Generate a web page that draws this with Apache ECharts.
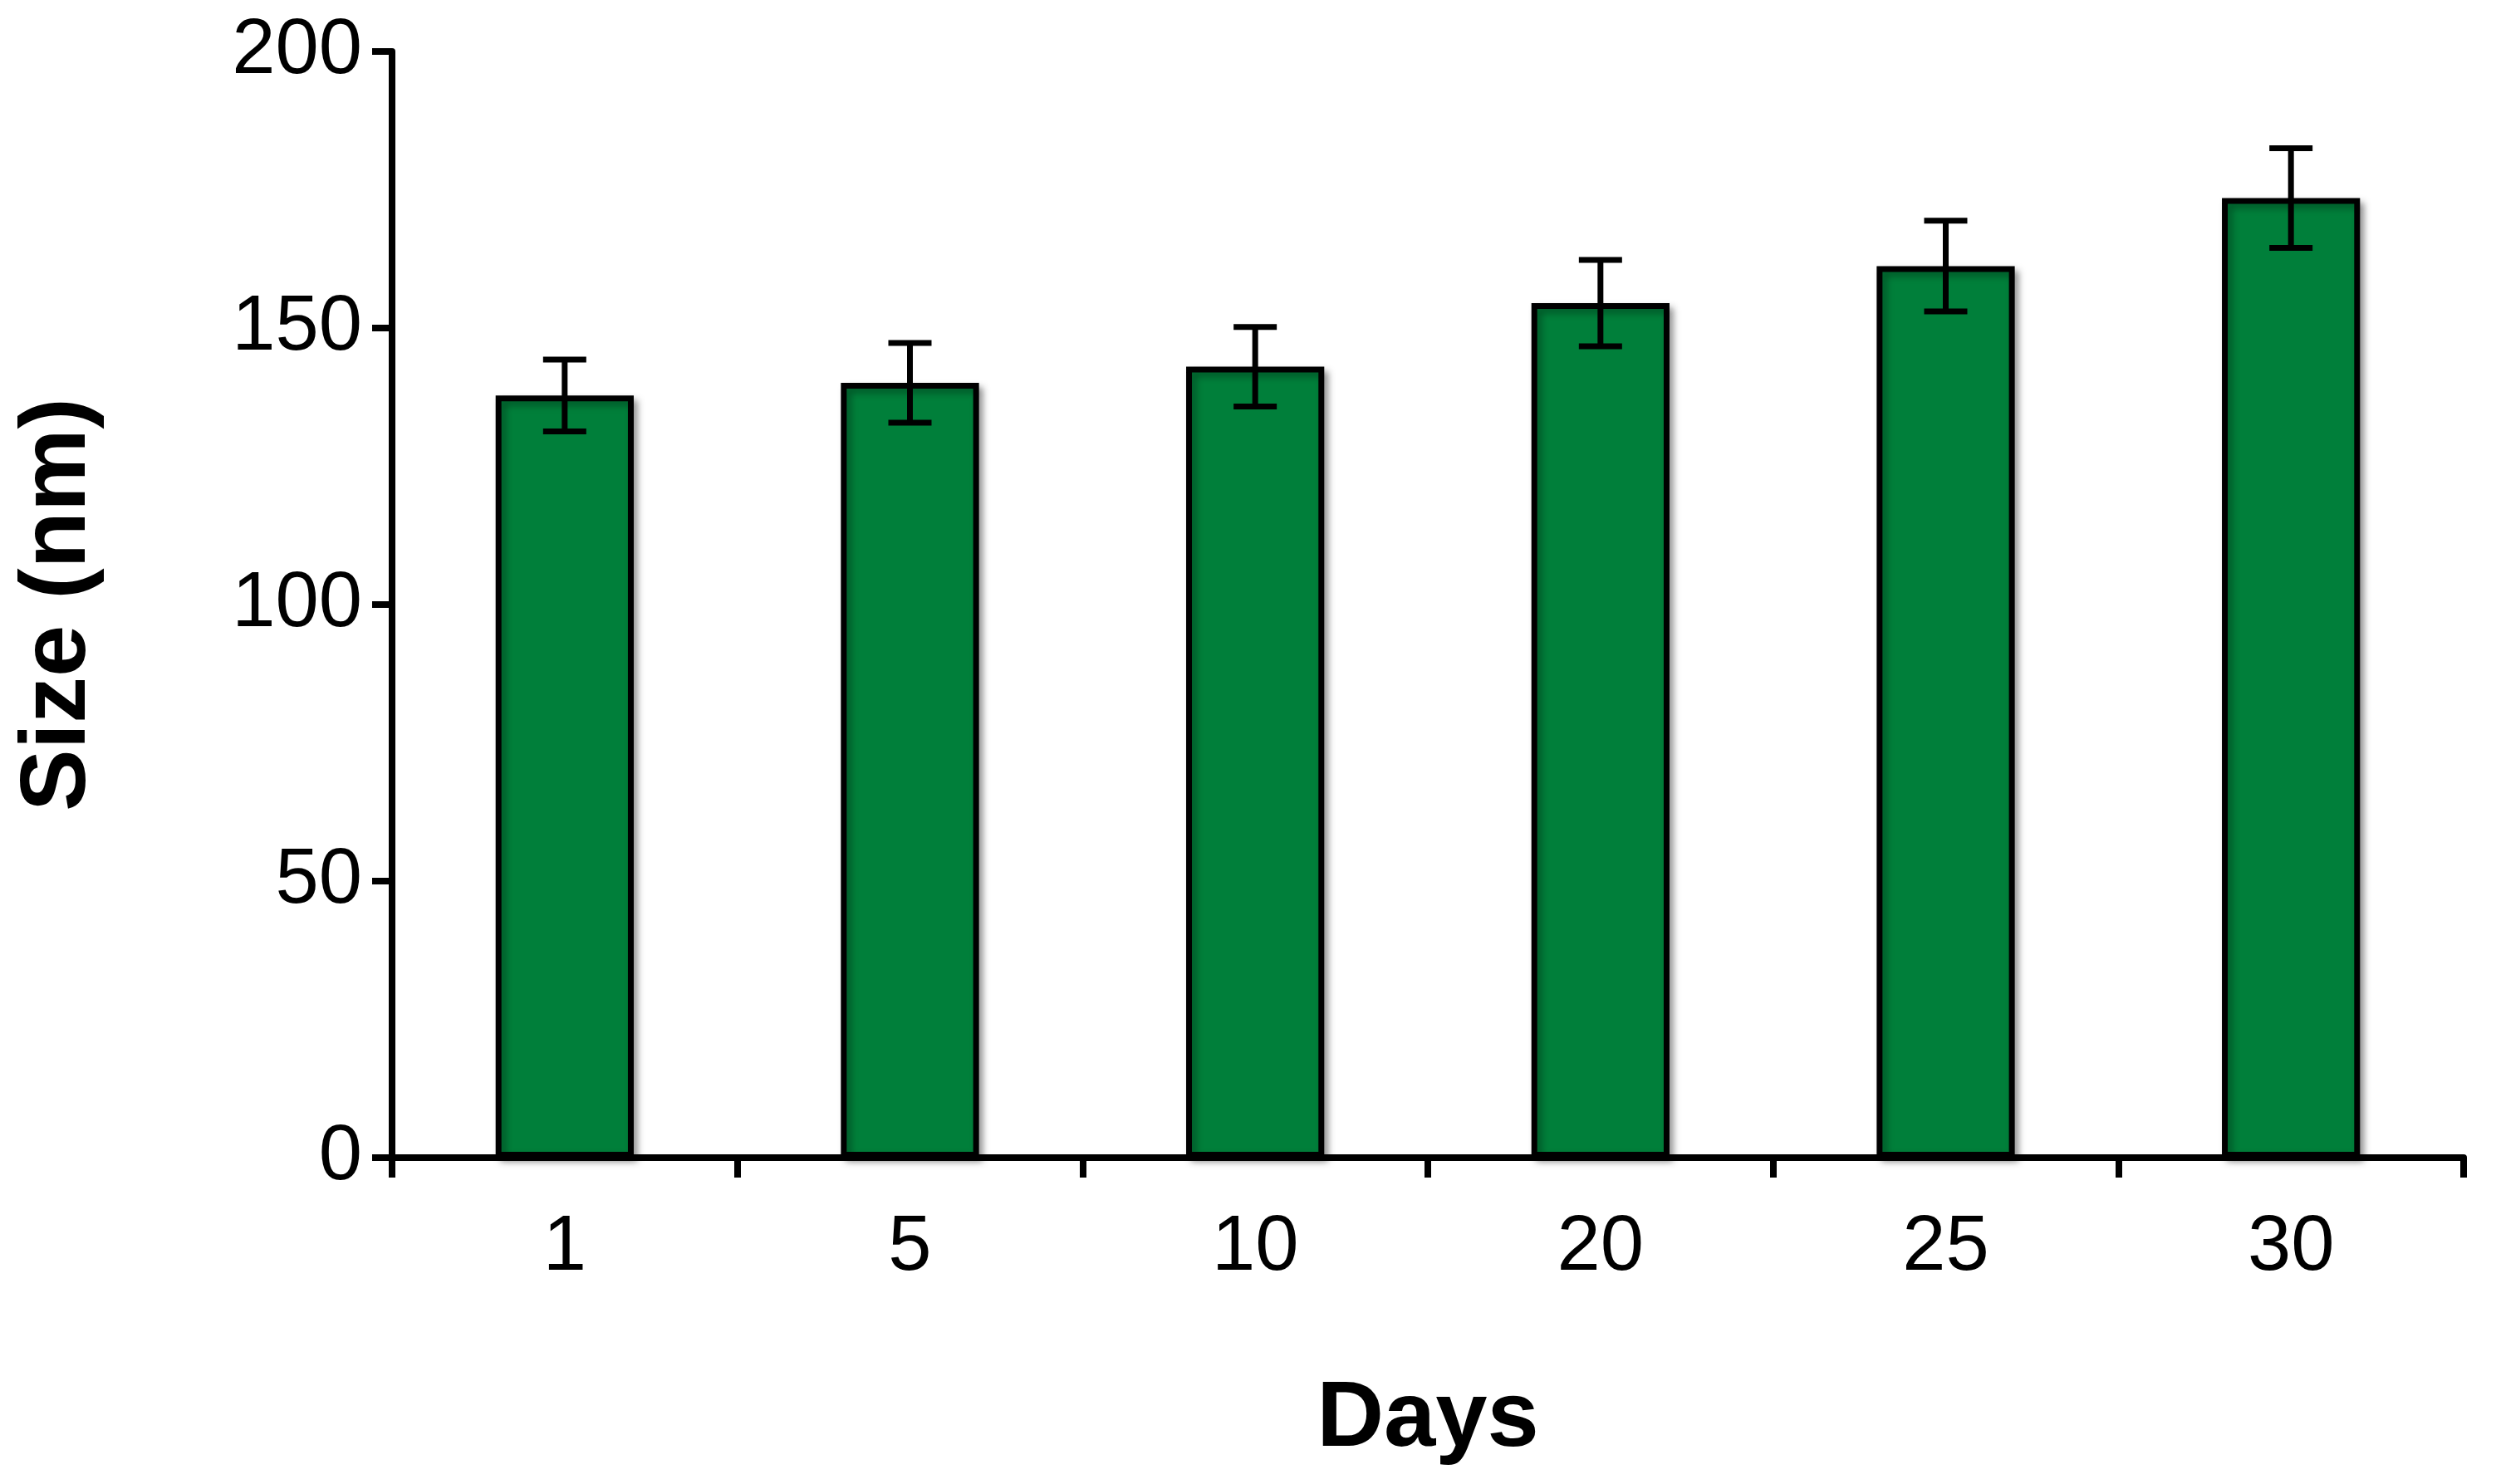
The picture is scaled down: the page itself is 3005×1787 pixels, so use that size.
<!DOCTYPE html>
<html><head><meta charset="utf-8">
<script src="https://cdn.jsdelivr.net/npm/echarts@6/dist/echarts.min.js"></script>
<style>html,body{margin:0;background:#fff}#c{width:3005px;height:1787px}</style>
</head><body><div id="c"></div>
<script>
const categories = ['1','5','10','20','25','30'];
const sizes = [137.8, 140.1, 143, 154.5, 161.2, 173.5];
const errors = [6.5, 7.2, 7.2, 7.8, 8.2, 9];
const yTicks = [0, 50, 100, 150, 200];

const chart = echarts.init(document.getElementById('c'));
const font = 'Liberation Sans, Arial, sans-serif';
chart.setOption({
  animation: false,
  grid: {left: 472, right: 39, top: 62, bottom: 393},
  xAxis: {
    type: 'category', data: categories,
    axisLine: {lineStyle: {color: '#000', width: 8}},
    axisTick: {show: true, length: 24, lineStyle: {color: '#000', width: 8}},
    axisLabel: {color: '#000', fontSize: 94, fontFamily: font, margin: 62},
    name: 'Days', nameLocation: 'middle', nameGap: 260,
    nameTextStyle: {color: '#000', fontSize: 112, fontWeight: 'bold', fontFamily: font}
  },
  yAxis: {
    type: 'value', min: 0, max: 200, interval: 50,
    axisLine: {show: true, lineStyle: {color: '#000', width: 8}},
    axisTick: {show: true, length: 24, lineStyle: {color: '#000', width: 8}},
    axisLabel: {color: '#000', fontSize: 94, fontFamily: font, margin: 36,
      formatter: v => yTicks.includes(v) ? String(v) : ''},
    splitLine: {show: false},
    name: 'Size (nm)', nameLocation: 'middle', nameGap: 345,
    nameTextStyle: {color: '#000', fontSize: 112, fontWeight: 'bold', fontFamily: font}
  },
  series: [{
    type: 'bar', data: sizes, barWidth: '40%',
    itemStyle: {color: '#007f3a', borderColor: '#000', borderWidth: 7,
      shadowColor: 'rgba(0,0,0,0.35)', shadowBlur: 8, shadowOffsetX: 5, shadowOffsetY: 5}
  }, {
    type: 'custom',
    data: sizes.map((v, i) => [i, v - errors[i], v + errors[i]]),
    renderItem: (params, api) => {
      const lo = api.coord([api.value(0), api.value(1)]);
      const hi = api.coord([api.value(0), api.value(2)]);
      const w = 26, st = {stroke: '#000', lineWidth: 7};
      return {type: 'group', children: [
        {type: 'line', shape: {x1: lo[0], y1: lo[1], x2: hi[0], y2: hi[1]}, style: st},
        {type: 'line', shape: {x1: lo[0]-w, y1: lo[1], x2: lo[0]+w, y2: lo[1]}, style: st},
        {type: 'line', shape: {x1: hi[0]-w, y1: hi[1], x2: hi[0]+w, y2: hi[1]}, style: st}
      ]};
    },
    z: 10
  }]
});
</script></body></html>
